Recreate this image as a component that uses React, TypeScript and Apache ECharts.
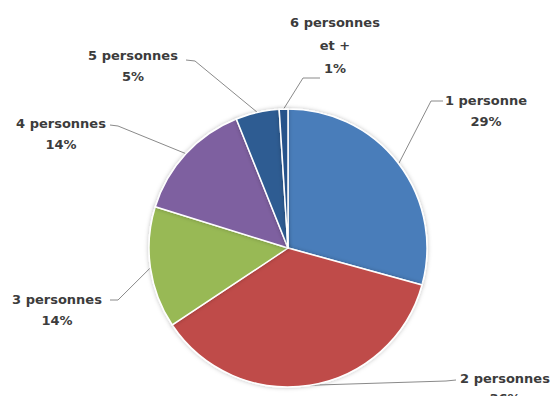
import React, { useEffect, useRef } from 'react';
import * as echarts from 'echarts';

const categories = ['1 personne', '2 personnes', '3 personnes', '4 personnes', '5 personnes', '6 personnes\net +'];
const shares = [29, 36, 14, 14, 5, 1];
const colors = ['#4a7dba', '#bf4c49', '#98b955', '#7e60a0', '#2e5c92', '#28528a'];

// label block centres and leader-line elbow points (layout only)
const labelCenters: number[][] = [[486, 111], [505, 388], [57, 310], [61, 134], [133, 66], [335, 45]];
const labelLineHeights = [21, 20, 21, 21, 21, 23];
const leaderElbows: number[][][] = [
  [[431, 101], [443, 101]],
  [[446, 381], [456, 380]],
  [[118, 300], [110, 300]],
  [[118, 126], [110, 125]],
  [[195, 61], [186, 60]],
  [[303, 78], [320, 78]],
];

export default function App() {
  const ref = useRef<HTMLDivElement>(null);
  useEffect(() => {
    if (!ref.current) return;
    const chart = echarts.init(ref.current, undefined, { renderer: 'svg' });
    chart.setOption({
      animation: false,
      backgroundColor: '#ffffff',
      series: [
        {
          type: 'pie',
          center: [288, 248],
          radius: 139,
          startAngle: 90,
          clockwise: true,
          avoidLabelOverlap: false,
          data: categories.map((name, i) => ({
            name,
            value: shares[i],
            itemStyle: { color: colors[i] },
            label: { lineHeight: labelLineHeights[i] },
          })),
          itemStyle: {
            borderColor: '#ffffff',
            borderWidth: 1.5,
            shadowBlur: 4,
            shadowColor: 'rgba(0,0,0,0.25)',
          },
          emphasis: { disabled: true },
          label: {
            show: true,
            position: 'outside',
            formatter: '{b}\n{c}%',
            fontFamily: 'DejaVu Sans',
            fontWeight: 'bold',
            fontSize: 13,
            lineHeight: 21,
            color: '#3c3c3c',
            align: 'center',
          },
          labelLine: {
            show: true,
            length: 10,
            length2: 10,
            lineStyle: { color: '#8a8a8a', width: 1 },
          },
          labelLayout: (params: any) => {
            const i = params.dataIndex;
            const start = params.labelLinePoints ? params.labelLinePoints[0] : leaderElbows[i][0];
            return {
              x: labelCenters[i][0],
              y: labelCenters[i][1],
              align: 'center',
              verticalAlign: 'middle',
              labelLinePoints: [start, ...leaderElbows[i]],
            };
          },
        },
      ],
    });
    return () => chart.dispose();
  }, []);
  return (
    <div
      ref={ref}
      style={{ position: 'fixed', left: 0, top: 0, width: 554, height: 396, background: '#fff' }}
    />
  );
}
